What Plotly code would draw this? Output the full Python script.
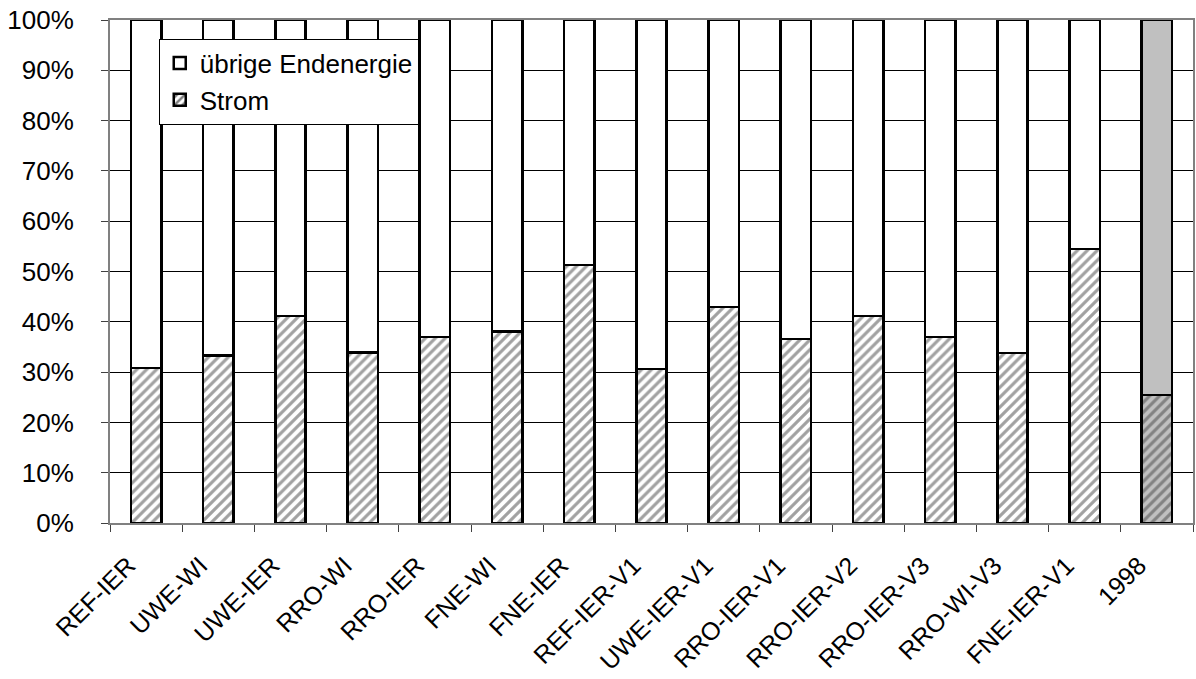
import plotly.graph_objects as go

# Scenario labels along the x axis
scenarios = ["REF-IER", "UWE-WI", "UWE-IER", "RRO-WI", "RRO-IER", "FNE-WI", "FNE-IER",
             "REF-IER-V1", "UWE-IER-V1", "RRO-IER-V1", "RRO-IER-V2", "RRO-IER-V3",
             "RRO-WI-V3", "FNE-IER-V1", "1998"]

# Share of electricity in final energy (%)
strom = [30.8, 33.3, 41.2, 33.9, 37.0, 38.1, 51.3, 30.6, 42.9, 36.6, 41.2, 37.0, 33.8, 54.5, 25.4]
# Remaining final energy (%)
uebrige = [round(100 - s, 1) for s in strom]

FONT = "Liberation Sans, Arial, sans-serif"
fill = ["#c0c0c0" if s == "1998" else "white" for s in scenarios]

fig = go.Figure()
fig.add_trace(go.Bar(
    x=scenarios, y=strom, name="Strom", legendgroup="a",
    marker=dict(color=fill, line=dict(color="black", width=2.5),
                pattern=dict(shape="/", fgcolor="black", bgcolor=fill,
                             size=7, solidity=0.45)),
))
fig.add_trace(go.Bar(
    x=scenarios, y=uebrige, name="übrige Endenergie", legendgroup="b",
    marker=dict(color=fill, line=dict(color="black", width=2.5)),
))

fig.update_layout(
    width=1196, height=679,
    barmode="stack", bargap=0.58,
    plot_bgcolor="white", paper_bgcolor="white",
    margin=dict(l=110, r=3, t=20, b=156, autoexpand=False),
    font=dict(family=FONT, size=25, color="black"),
    legend=dict(x=0.045, y=0.963, xanchor="left", yanchor="top",
                traceorder="reversed", tracegroupgap=12,
                bgcolor="white", bordercolor="black", borderwidth=1,
                font=dict(family=FONT, size=26), itemwidth=30),
    xaxis=dict(tickangle=-45, tickson="boundaries", ticks="outside", ticklen=7,
               tickcolor="#404040", showline=True, linecolor="#808080", linewidth=2,
               mirror=True, showgrid=False, tickfont=dict(size=25), automargin=False,
               ticklabelstandoff=16, ticklabelshift=-18),
    yaxis=dict(range=[0, 100], dtick=10, ticksuffix="%", ticks="outside", ticklen=7,
               tickcolor="#404040", showline=True, linecolor="#808080", linewidth=2,
               mirror=True, showgrid=True, gridcolor="black", gridwidth=1,
               zeroline=False, tickfont=dict(size=26), automargin=False,
               ticklabelstandoff=22),
)

fig.write_html("out.html")
